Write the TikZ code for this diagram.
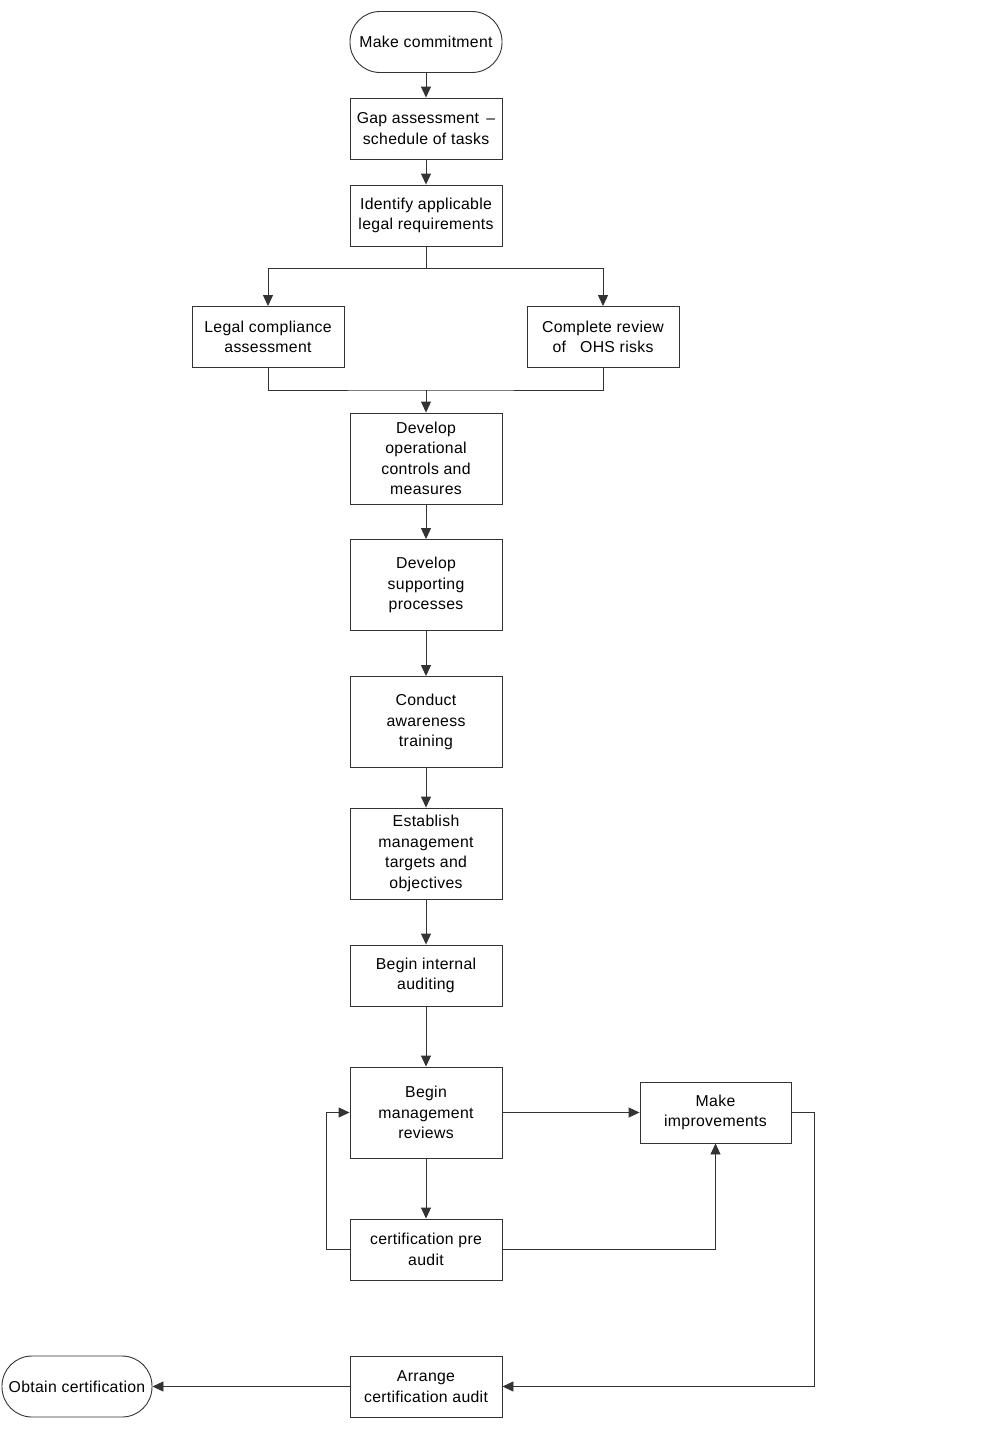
\documentclass[tikz,border=0pt]{standalone}
\usepackage{fontspec}
\setmainfont{Liberation Sans}[LetterSpace=2]
\usetikzlibrary{arrows.meta}
\begin{document}
\begin{tikzpicture}[x=1pt,y=-1pt,
  box/.style={draw=black!80, line width=0.9pt, minimum width=152pt, minimum height=61pt,
    align=center, font=\fontsize{15.8}{20.5}\selectfont, inner sep=0pt},
  tallbox/.style={box, minimum height=91pt},
  term/.style={box, rounded corners=30pt},
  conn/.style={draw=black!80, line width=0.9pt, -{Triangle[length=11pt,width=10pt]}},
  line/.style={draw=black!80, line width=0.9pt}]
\fill[white] (0,0) rectangle (1000,1430);
\useasboundingbox (0,0) rectangle (1000,1430);
\node[term] (n1) at (426,42) {Make commitment};
\node[box] (n2) at (426,128.5) {Gap assessment \,--\\schedule of tasks};
\node[box] (n3) at (426,215.5) {Identify applicable\\legal requirements};
\node[box] (n4) at (268,337) {Legal compliance\\assessment};
\node[box] (n5) at (603,337) {Complete review\\of\ \ \ OHS risks};
\node[tallbox] (n6) at (426,458.5) {Develop\\operational\\controls and\\measures};
\node[tallbox] (n7) at (426,585) {Develop\\supporting\\processes};
\node[tallbox] (n8) at (426,722) {Conduct\\awareness\\training};
\node[tallbox] (n9) at (426,853.5) {Establish\\management\\targets and\\objectives};
\node[box] (n10) at (426,975.5) {Begin internal\\auditing};
\node[tallbox] (n11) at (426,1112.5) {Begin\\management\\reviews};
\node[box, minimum width=151pt] (n12) at (715.5,1112.5) {Make\\improvements};
\node[box] (n13) at (426,1249.5) {certification pre\\audit};
\node[box] (n14) at (426,1386.5) {Arrange\\certification audit};
\node[term, minimum width=150pt] (n15) at (77,1386.5) {Obtain certification};
\coordinate (s) at (426,268);
\coordinate (m) at (426,390);
\draw[conn] (n1) -- (n2);
\draw[conn] (n2) -- (n3);
\draw[line] (n3.south) -- (s);
\draw[conn] (s) -| (n4.north);
\draw[conn] (s) -| (n5.north);
\draw[line] (n4.south) |- (m) -| (n5.south);
\draw[conn] (m) -- (n6);
\draw[conn] (n6) -- (n7);
\draw[conn] (n7) -- (n8);
\draw[conn] (n8) -- (n9);
\draw[conn] (n9) -- (n10);
\draw[conn] (n10) -- (n11);
\draw[conn] (n11) -- (n13);
\draw[conn] (n11) -- (n12);
\draw[conn] (n13.west) -- ++(-23,0) |- (n11.west);
\draw[conn] (n13.east) -| (n12.south);
\draw[conn] (n12.east) -- ++(23,0) |- (n14.east);
\draw[conn] (n14) -- (n15);
\end{tikzpicture}
\end{document}
